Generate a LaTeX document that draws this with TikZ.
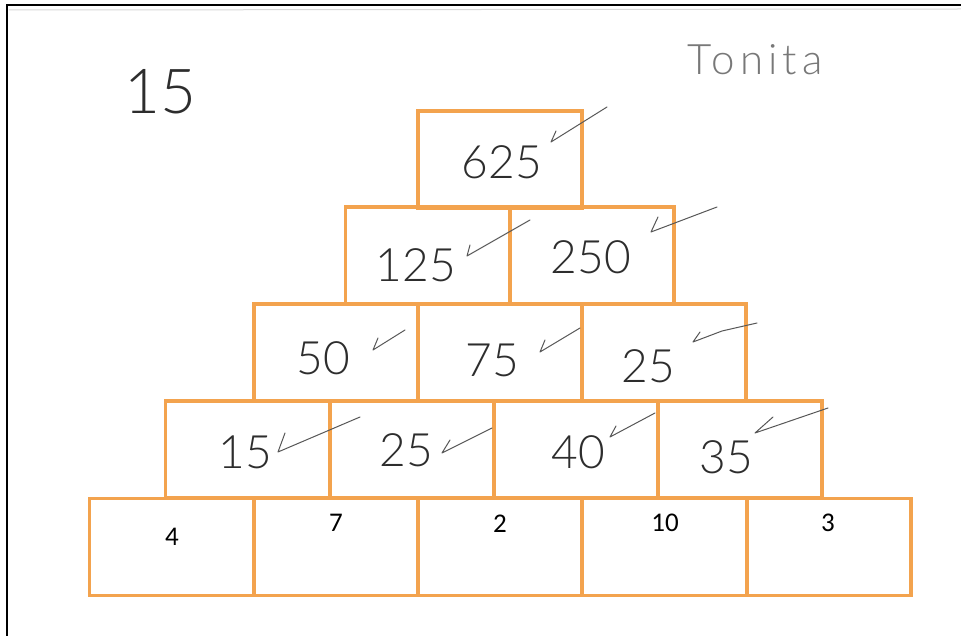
\documentclass[tikz,border=0pt]{standalone}
\usepackage{fontspec}
\setmainfont{Carlito}
\newfontfamily\hand{Lato Light}
\newfontfamily\printed{Carlito}
\newcommand\givennum[1]{{\printed\fontsize{27}{30}\selectfont #1}}
\definecolor{boxorange}{RGB}{243,163,78}
\definecolor{ink}{RGB}{45,45,45}
\definecolor{pencil}{RGB}{120,120,120}
\begin{document}
\begin{tikzpicture}[x=1pt,y=-1pt,
  cell/.style={draw=boxorange,line width=3.2pt,inner sep=0pt,minimum width=164pt,minimum height=97pt},
  given/.style={text=black,inner sep=0pt},
  handnum/.style={font=\hand\fontsize{46}{46}\selectfont,text=ink,inner sep=0pt},
  tickline/.style={draw=ink!80,line width=1pt,line cap=round,line join=round}]
\useasboundingbox (0,0) rectangle (961,636);
\fill[white] (0,0) rectangle (961,636);
% frame
\draw[line width=2.4pt] (7,636) -- (7,5) -- (961,5);
\draw[black!15,line width=1pt] (9,10) -- (961,9);
% boxes
\node[cell] (r1) at (500,159.5) {};
\node[cell] (r2a) at (427.5,255.5) {};
\node[cell] (r2b) at (592,255.5) {};
\node[cell] (r3a) at (336,352.5) {};
\node[cell] (r3b) at (500,352.5) {};
\node[cell] (r3c) at (664,352.5) {};
\node[cell] (r4a) at (247.5,449.5) {};
\node[cell] (r4b) at (412,449.5) {};
\node[cell] (r4c) at (576,449.5) {};
\node[cell] (r4d) at (740,449.5) {};
\node[cell] (r5a) at (171.5,547) {};
\node[cell] (r5b) at (336,547) {};
\node[cell] (r5c) at (500,547) {};
\node[cell] (r5d) at (664.5,547) {};
\node[cell] (r5e) at (829,547) {};
% printed numbers
\node[given] (g1) at (172,537) {\givennum{4}};
\node[given] (g2) at (336,523) {\givennum{7}};
\node[given] (g3) at (500,524) {\givennum{2}};
\node[given] (g4) at (665,523) {\givennum{10}};
\node[given] (g5) at (828,523) {\givennum{3}};
% handwritten
\node[font=\hand\fontsize{62}{62}\selectfont,text=ink] (q) at (160,92) {15};
\node[font=\hand\fontsize{42}{42}\selectfont\addfontfeature{LetterSpace=12},text=pencil] (name) at (755,60) {Tonita};
\node[handnum] (n1) at (502,162) {625};
\node[handnum] (n2a) at (416,265) {125};
\node[handnum] (n2b) at (591,257) {250};
\node[handnum] (n3a) at (323,358) {50};
\node[handnum] (n3b) at (492,360) {75};
\node[handnum] (n3c) at (648,366) {25};
\node[handnum] (n4a) at (245,452) {15};
\node[handnum] (n4b) at (406,450) {25};
\node[handnum] (n4c) at (578,452) {40};
\node[handnum] (n4d) at (726,457) {35};
% ticks
\draw[tickline] (556,131) -- (551,142) -- (607,107);
\draw[tickline] (470,245) -- (467,256) -- (530,220);
\draw[tickline] (658,217) -- (651,232) -- (717,207);
\draw[tickline] (378,338) -- (373,350) -- (405,330);
\draw[tickline] (545,340) -- (540,352) -- (580,328);
\draw[tickline] (700,332) -- (693,342) -- (722,331) -- (757,323);
\draw[tickline] (285,433) -- (278,452) -- (360,417);
\draw[tickline] (450,440) -- (442,453) -- (492,428);
\draw[tickline] (616,426) -- (610,437) -- (655,413);
\draw[tickline] (773,417) -- (755,433) -- (828,408);
\end{tikzpicture}
\end{document}
